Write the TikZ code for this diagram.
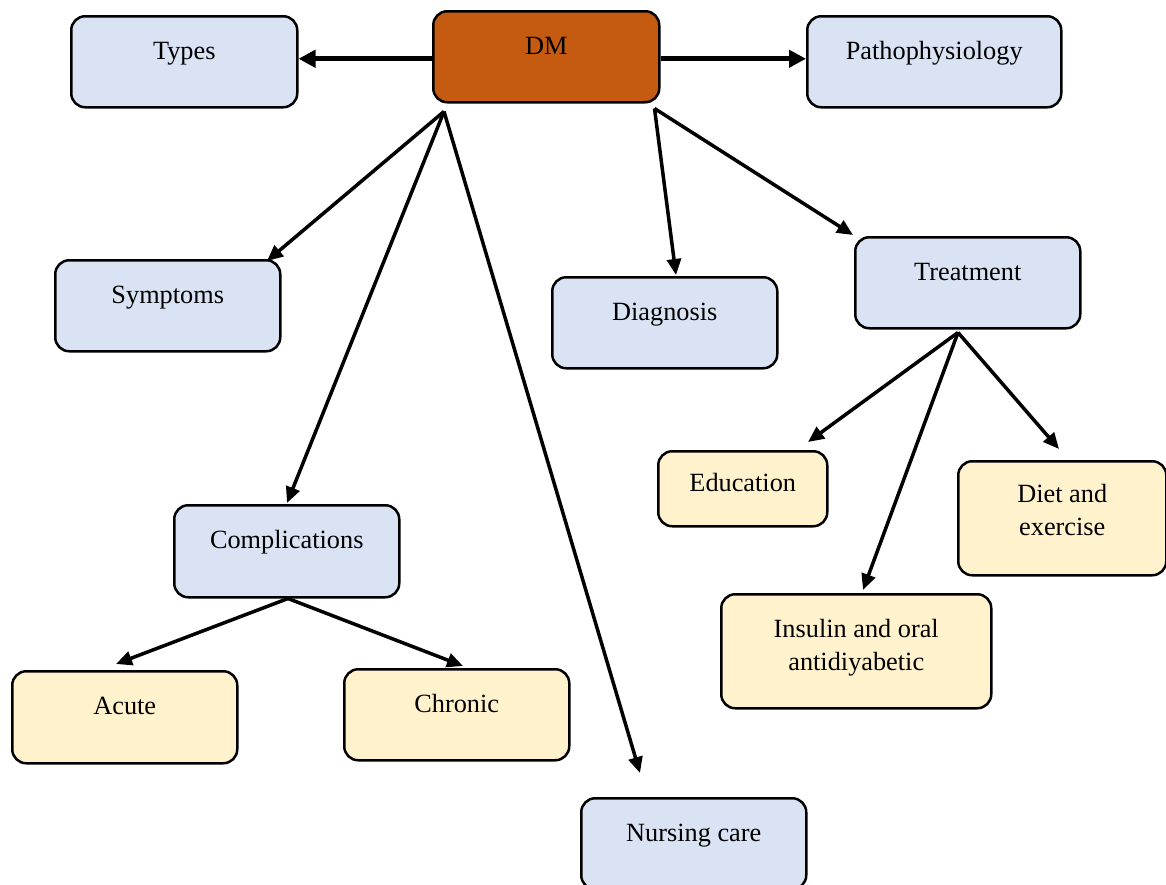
\documentclass[tikz,border=0pt]{standalone}
\usepackage{fontspec}
\setmainfont{Liberation Serif}
\usetikzlibrary{calc,arrows.meta}
\definecolor{bluefill}{HTML}{DAE3F3}
\definecolor{yellowfill}{HTML}{FFF2CC}
\definecolor{orangefill}{HTML}{C55A11}
\newcommand{\bxt}[4]{\parbox[c][#2pt][t]{#1pt}{\centering\rule{0pt}{#3pt}#4\par}}
\begin{document}
\begin{tikzpicture}[x=1pt,y=-1pt,
  box/.style={draw=black, line width=2.5pt, rounded corners=14pt, inner sep=0pt, anchor=north west,
    font=\fontsize{26.3}{33}\selectfont},
  bluebox/.style={box, fill=bluefill},
  yellowbox/.style={box, fill=yellowfill},
  orangebox/.style={box, fill=orangefill},
  thickarr/.style={line width=5pt, -{Triangle[length=17pt,width=17pt]}},
  arr/.style={line width=3.5pt, -{Triangle[length=16pt,width=14pt]}}]
\useasboundingbox (0,0) rectangle (1166,884);
\clip (0,0) rectangle (1166,884);
\fill[white] (0,0) rectangle (1166,884);

\node[orangebox] (dm) at (432,10) {\bxt{226}{91}{43}{DM}};
\node[bluebox] (types) at (70,15) {\bxt{226}{91}{43}{Types}};
\node[bluebox] (patho) at (806,15) {\bxt{254}{91}{43}{Pathophysiology}};
\node[bluebox] (symptoms) at (54,259) {\bxt{225}{91}{43}{Symptoms}};
\node[bluebox] (diagnosis) at (551,276) {\bxt{225}{91}{43}{Diagnosis}};
\node[bluebox] (treatment) at (854,236) {\bxt{225}{91}{43}{Treatment}};
\node[bluebox] (complications) at (173,504) {\bxt{225}{92}{43}{Complications}};
\node[yellowbox] (education) at (657,450) {\bxt{169}{75}{40}{Education}};
\node[yellowbox] (diet) at (957,460) {\bxt{208}{114}{41}{Diet and\\exercise}};
\node[yellowbox] (insulin) at (720,593) {\bxt{270}{114}{43}{Insulin and oral\\antidiyabetic}};
\node[yellowbox] (acute) at (11,670) {\bxt{225}{92}{43}{Acute}};
\node[yellowbox] (chronic) at (343,668) {\bxt{225}{91}{43}{Chronic}};
\node[bluebox] (nursing) at (580,797) {\bxt{225}{91}{43}{Nursing care}};

\coordinate (dmL) at ($(dm.south west)+(12,8)$);
\coordinate (dmR) at ($(dm.south east)+(-6,5)$);
\coordinate (trB) at ($(treatment.south west)+(104,3)$);
\coordinate (coB) at ($(complications.south west)+(115,0)$);

\draw[thickarr] ($(dm.west)+(0,2)$) -- ($(dm.west -| types.east)+(0,2)$);
\draw[thickarr] ($(dm.east)+(0,2)$) -- ($(dm.east -| patho.west)+(0,2)$);
\draw[arr] (dmL) -- ($(symptoms.north west)+(213,2)$);
\draw[arr] (dmL) -- ($(complications.north west)+(114,-1)$);
\draw[arr] (dmL) -- ($(nursing.north west)+(60,-24)$);
\draw[arr] (dmR) -- ($(diagnosis.north west)+(125,-1)$);
\draw[arr] (dmR) -- ($(treatment.north west)+(-1,-1)$);
\draw[arr] (trB) -- ($(education.north west)+(151,-8)$);
\draw[arr] (trB) -- ($(insulin.north west)+(143,-3)$);
\draw[arr] (trB) -- ($(diet.north west)+(102,-11)$);
\draw[arr] (coB) -- ($(acute.north west)+(105,-6)$);
\draw[arr] (coB) -- ($(chronic.north west)+(120,-2)$);
\end{tikzpicture}
\end{document}
